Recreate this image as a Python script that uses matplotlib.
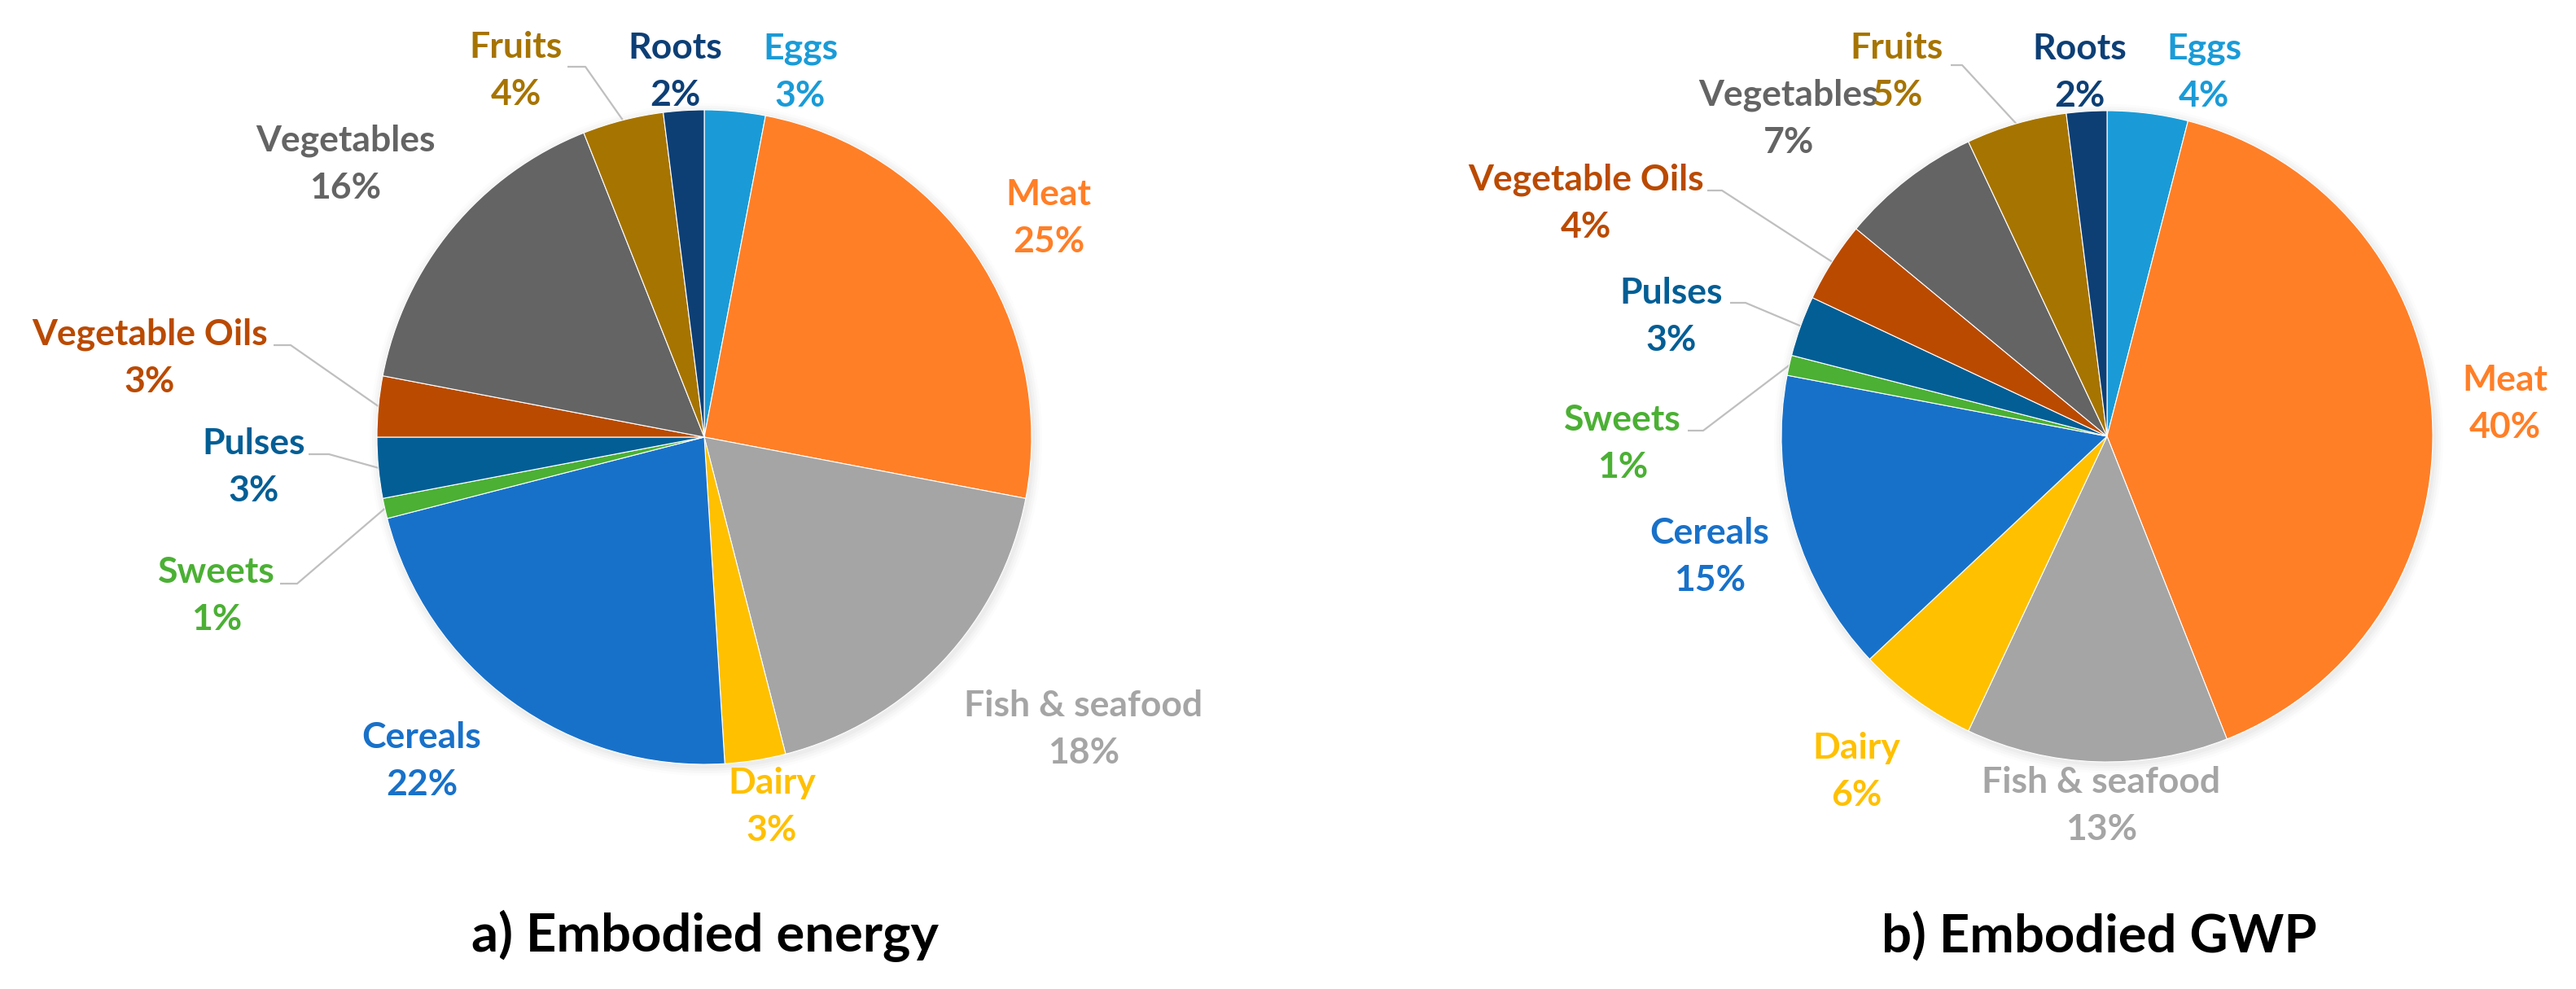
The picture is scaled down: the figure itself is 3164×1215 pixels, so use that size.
import numpy as np
import matplotlib.pyplot as plt
from matplotlib.patches import Circle

# data
categories = ['Eggs', 'Meat', 'Fish & seafood', 'Dairy', 'Cereals', 'Sweets',
              'Pulses', 'Vegetable Oils', 'Vegetables', 'Fruits', 'Roots']
energy_share = [3, 25, 18, 3, 22, 1, 3, 3, 16, 4, 2]
gwp_share = [4, 40, 13, 6, 15, 1, 3, 4, 7, 5, 2]
titles = ['a) Embodied energy', 'b) Embodied GWP']

colors = ['#1A9BD7', '#FF7F27', '#A5A5A5', '#FFC000', '#1871C9', '#4BB034',
          '#025E95', '#BA4A00', '#646464', '#A67400', '#0D3F75']

# layout (pixels, origin top-left)
W, H = 3164, 1215
centers = [(865, 537), (2588, 536)]
radius = [402, 400]
title_pos = [(866, 1150), (2578, 1150)]
label_pos = [
    [(983, 60), (1288, 239), (1331, 867), (948, 962), (518, 906), (266, 703),
     (312, 545), (184, 411), (424, 173), (634, 58), (829, 59)],
    [(2707, 60), (3077, 467), (2581, 961), (2280, 919), (2100, 655), (1993, 516),
     (2053, 360), (1948, 221), (2197, 117), (2330, 59), (2554, 60)],
]
# leader lines: category index -> (start, knee)
leaders = [
    {9: ((697, 82), (719, 82)), 7: ((336, 424), (357, 424)),
     6: ((379, 558), (404, 558)), 5: ((344, 717), (365, 717))},
    {9: ((2396, 80), (2410, 80)), 7: ((2097, 234), (2115, 234)),
     6: ((2125, 372), (2144, 372)), 5: ((2073, 529), (2092, 529))},
]
pct_dy = 58

plt.rcParams['font.family'] = ['Lato', 'DejaVu Sans']

fig = plt.figure(figsize=(W / 100, H / 100), dpi=100)
ax = fig.add_axes([0, 0, 1, 1])

for k, vals in enumerate([energy_share, gwp_share]):
    cx, cy = centers[k]
    r = radius[k]
    # soft shadow round the pie
    for j, a in enumerate([0.05, 0.04, 0.03, 0.02]):
        ax.add_patch(Circle((cx + 2, cy + 3), r + 2 + 3 * j, color='#7F7F7F',
                            alpha=a, lw=0, zorder=0))
    # y axis is inverted, so this runs clockwise from 12 o'clock on screen
    wedges, _ = ax.pie(vals, colors=colors, startangle=-90, counterclock=True,
                       center=(cx, cy), radius=r,
                       wedgeprops=dict(edgecolor='white', linewidth=0.8, zorder=2))
    for i, (name, v) in enumerate(zip(categories, vals)):
        lx, ly = label_pos[k][i]
        tc = colors[i]
        ax.text(lx, ly, name, color=tc, fontsize=32, fontweight='bold',
                ha='center', va='center', zorder=4)
        ax.text(lx, ly + pct_dy, f'{v}%', color=tc, fontsize=32, fontweight='bold',
                ha='center', va='center', zorder=4)
        if i in leaders[k]:
            w = wedges[i]
            mid = np.deg2rad((w.theta1 + w.theta2) / 2)
            ex, ey = cx + r * np.cos(mid), cy + r * np.sin(mid)
            (sx, sy), (kx, ky) = leaders[k][i]
            ax.plot([sx, kx, ex], [sy, ky, ey], color='#BFBFBF', lw=1.6,
                    solid_capstyle='butt', zorder=1)
    tx, ty = title_pos[k]
    ax.text(tx, ty, titles[k], fontsize=47, fontweight='bold', color='black',
            ha='center', va='center')

ax.set_xlim(0, W)
ax.set_ylim(H, 0)
ax.set_aspect('auto')
ax.axis('off')

fig.savefig('out.png', dpi=100, facecolor='white')
